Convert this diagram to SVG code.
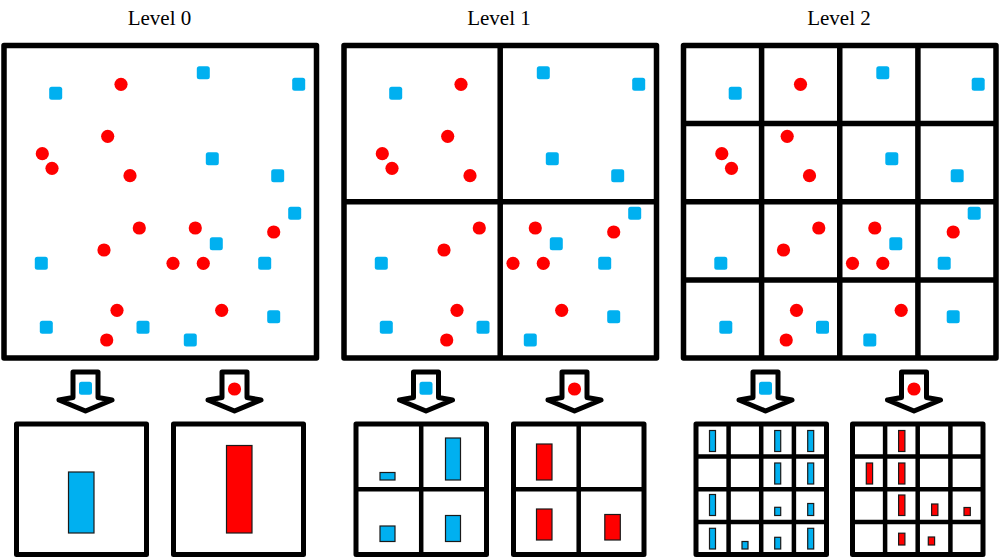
<svg xmlns="http://www.w3.org/2000/svg" xmlns:xlink="http://www.w3.org/1999/xlink" width="1000" height="558" viewBox="0 0 1000 558">
<style>
.title{font-family:"Liberation Serif","Times New Roman",serif;font-size:21px;fill:#000;text-anchor:middle}
.frame{fill:#fff;stroke:#000;stroke-width:5.5;stroke-linejoin:round}
.grid{fill:none;stroke:#000;stroke-width:5.5;stroke-linecap:butt}
.hframe{fill:#fff;stroke:#000;stroke-width:5;stroke-linejoin:round}
.hgrid{fill:none;stroke:#000;stroke-width:4.5}
.bs{fill:#00B0F0}
.rc{fill:#FF0000}
.bbar{fill:#00B0F0;stroke:#1a1a1a;stroke-width:1.2}
.rbar{fill:#FF0000;stroke:#1a1a1a;stroke-width:1.2}
.arrow{fill:#fff;stroke:#000;stroke-width:5;stroke-linejoin:round}
</style>
<defs>
<rect id="sq" x="-6.5" y="-6.5" width="13" height="13" rx="2.5"/>
<g id="pts">
<use href="#sq" class="bs" x="55.7" y="93.3"/>
<use href="#sq" class="bs" x="203.3" y="72.7"/>
<use href="#sq" class="bs" x="298.7" y="84.3"/>
<use href="#sq" class="bs" x="212.3" y="158.7"/>
<use href="#sq" class="bs" x="277.7" y="175.7"/>
<use href="#sq" class="bs" x="294.7" y="213.3"/>
<use href="#sq" class="bs" x="216.3" y="243.7"/>
<use href="#sq" class="bs" x="41.3" y="263.3"/>
<use href="#sq" class="bs" x="264.7" y="263.3"/>
<use href="#sq" class="bs" x="273.7" y="316.7"/>
<use href="#sq" class="bs" x="46.3" y="327.3"/>
<use href="#sq" class="bs" x="143" y="327.3"/>
<use href="#sq" class="bs" x="190.3" y="340"/>
<circle class="rc" cx="121" cy="84.3" r="6.6"/>
<circle class="rc" cx="107.7" cy="136.3" r="6.6"/>
<circle class="rc" cx="42.3" cy="153.7" r="6.6"/>
<circle class="rc" cx="52" cy="168.3" r="6.6"/>
<circle class="rc" cx="130" cy="175.7" r="6.6"/>
<circle class="rc" cx="139.3" cy="228" r="6.6"/>
<circle class="rc" cx="195.3" cy="228" r="6.6"/>
<circle class="rc" cx="273.7" cy="232" r="6.6"/>
<circle class="rc" cx="104" cy="250" r="6.6"/>
<circle class="rc" cx="173" cy="263.3" r="6.6"/>
<circle class="rc" cx="203.3" cy="263.3" r="6.6"/>
<circle class="rc" cx="117" cy="310.3" r="6.6"/>
<circle class="rc" cx="221.7" cy="310.3" r="6.6"/>
<circle class="rc" cx="106.7" cy="340" r="6.6"/>
</g>
<path id="arr" class="arrow" d="M-12.5,372 L-12.5,397.5 L-26.5,400 L0,411 L26.5,400 L12.5,397.5 L12.5,372 Z"/>
</defs>

<g id="level0">
<text class="title" x="159.5" y="25">Level 0</text>
<rect class="frame" x="4" y="45.5" width="312.5" height="312.5"/>
<use href="#pts"/>
</g>

<g id="level1">
<text class="title" x="499" y="25">Level 1</text>
<rect class="frame" x="344" y="45.5" width="312.5" height="312.5"/>
<path class="grid" d="M500.2,45.5 V358 M344,201.75 H656.5"/>
<use href="#pts" x="340"/>
</g>

<g id="level2">
<text class="title" x="839" y="25">Level 2</text>
<rect class="frame" x="683.5" y="45.5" width="312.5" height="312.5"/>
<path class="grid" d="M761.6,45.5 V358 M839.75,45.5 V358 M917.9,45.5 V358 M683.5,123.6 H996 M683.5,201.75 H996 M683.5,279.9 H996"/>
<use href="#pts" x="679.5"/>
</g>

<g id="connectors">
<use href="#arr" x="85.5"/>
<use href="#sq" class="bs" x="85.5" y="388.3"/>
<use href="#arr" x="234.5"/>
<circle class="rc" cx="234.5" cy="389" r="6.6"/>
<use href="#arr" x="426"/>
<use href="#sq" class="bs" x="426" y="388.3"/>
<use href="#arr" x="574.5"/>
<circle class="rc" cx="574.5" cy="389" r="6.6"/>
<use href="#arr" x="765.5"/>
<use href="#sq" class="bs" x="765.5" y="388.3"/>
<use href="#arr" x="914"/>
<circle class="rc" cx="914" cy="389" r="6.6"/>
</g>

<g id="hist0-blue">
<rect class="hframe" x="16.5" y="424" width="130" height="130.5"/>
<rect class="bbar" x="68.5" y="472" width="25.5" height="61"/>
</g>
<g id="hist0-red">
<rect class="hframe" x="173.5" y="424" width="130" height="130.5"/>
<rect class="rbar" x="226.5" y="445.5" width="25.5" height="87.5"/>
</g>

<g id="hist1-blue">
<rect class="hframe" x="356" y="424" width="130.5" height="130.5"/>
<path class="hgrid" d="M421.2,424 V554.5 M356,489.2 H486.5"/>
<rect class="bbar" x="380" y="472.5" width="15" height="7.5"/>
<rect class="bbar" x="445.5" y="438" width="15" height="42"/>
<rect class="bbar" x="380" y="526" width="15" height="15.5"/>
<rect class="bbar" x="445.5" y="515.5" width="15" height="26"/>
</g>
<g id="hist1-red">
<rect class="hframe" x="513.5" y="424" width="130.5" height="130.5"/>
<path class="hgrid" d="M578.7,424 V554.5 M513.5,489.2 H644"/>
<rect class="rbar" x="536.5" y="444" width="15.5" height="36"/>
<rect class="rbar" x="536.5" y="509" width="15.5" height="31"/>
<rect class="rbar" x="604.8" y="514.5" width="15.5" height="25.5"/>
</g>

<g id="hist2-blue">
<rect class="hframe" x="696" y="424" width="130.5" height="130.5"/>
<path class="hgrid" d="M728.6,424 V554.5 M761.2,424 V554.5 M793.9,424 V554.5 M696,456.6 H826.5 M696,489.2 H826.5 M696,521.9 H826.5"/>
<rect class="bbar" x="709.5" y="430.5" width="6" height="21"/>
<rect class="bbar" x="774.7" y="430.5" width="6" height="21"/>
<rect class="bbar" x="807.7" y="430.5" width="6" height="21"/>
<rect class="bbar" x="774.7" y="463" width="6" height="21"/>
<rect class="bbar" x="807.7" y="463" width="6" height="21"/>
<rect class="bbar" x="709.5" y="494.5" width="6" height="21"/>
<rect class="bbar" x="774.7" y="507.3" width="6" height="8.2"/>
<rect class="bbar" x="807.7" y="503.5" width="6" height="12"/>
<rect class="bbar" x="709.5" y="528.3" width="6" height="20.7"/>
<rect class="bbar" x="742" y="541.5" width="6" height="7.5"/>
<rect class="bbar" x="774.7" y="537.3" width="6" height="11.7"/>
<rect class="bbar" x="807.7" y="528.3" width="6" height="20.7"/>
</g>
<g id="hist2-red">
<rect class="hframe" x="852.5" y="424" width="130.5" height="130.5"/>
<path class="hgrid" d="M885.1,424 V554.5 M917.7,424 V554.5 M950.4,424 V554.5 M852.5,456.6 H983 M852.5,489.2 H983 M852.5,521.9 H983"/>
<rect class="rbar" x="898.6" y="430.5" width="6.3" height="21"/>
<rect class="rbar" x="866.3" y="463" width="6.3" height="21"/>
<rect class="rbar" x="898.6" y="463" width="6.3" height="21"/>
<rect class="rbar" x="898.6" y="495" width="6.3" height="20.5"/>
<rect class="rbar" x="931.6" y="504" width="6.3" height="11.5"/>
<rect class="rbar" x="964" y="507.5" width="6.3" height="8"/>
<rect class="rbar" x="898.6" y="533.2" width="6.3" height="11.8"/>
<rect class="rbar" x="928.3" y="537" width="6.3" height="8"/>
</g>
</svg>
